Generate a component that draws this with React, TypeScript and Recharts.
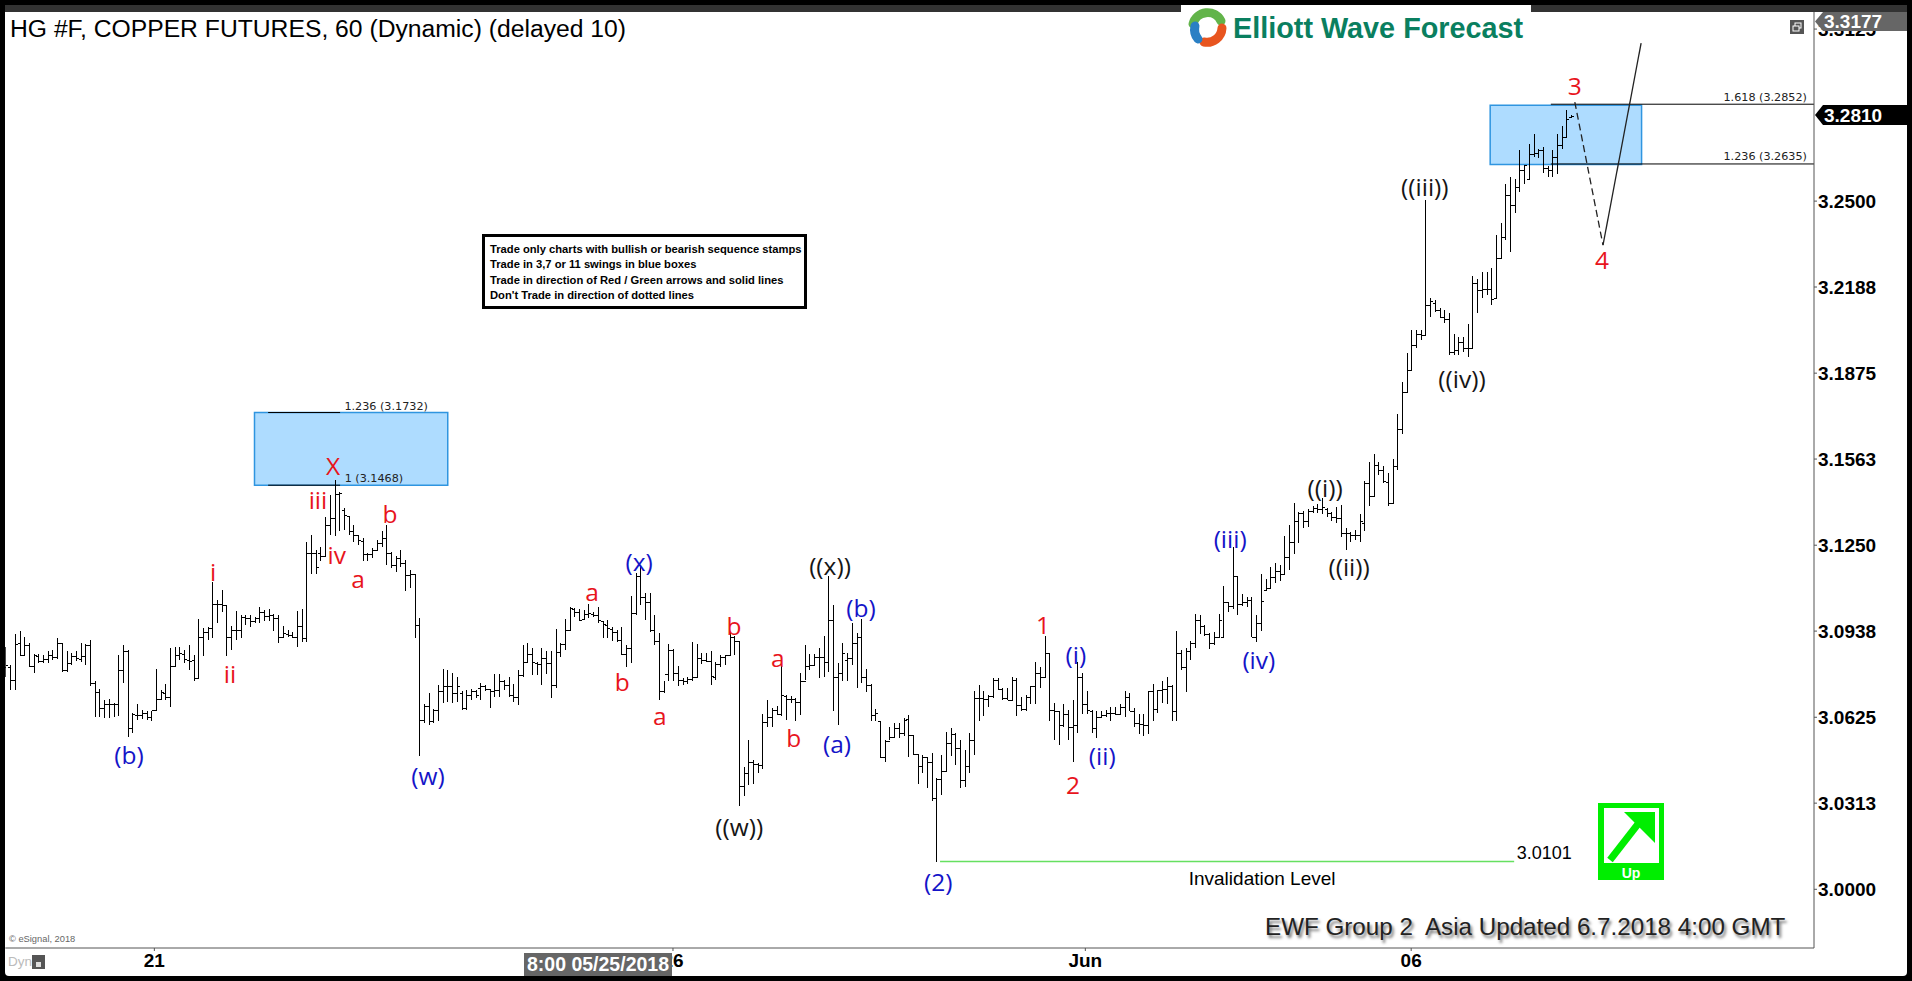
import React from "react";
import {
  ComposedChart,
  Bar,
  XAxis,
  YAxis,
  ReferenceArea,
  ReferenceLine,
  ReferenceDot,
} from "recharts";

// hourly OHLC bars, one column per array
const highs = [
  3.0882,3.0815,3.0928,3.0939,3.0918,3.0894,3.0855,3.0855,3.0852,3.0864,
  3.0868,3.0912,3.0894,3.0864,3.0858,3.0866,3.0894,3.0892,3.0906,3.0755,
  3.0727,3.0688,3.0691,3.0676,3.0852,3.0888,3.0868,3.0640,3.0674,3.0650,
  3.0646,3.0646,3.0800,3.0725,3.0746,3.0876,3.0882,3.0882,3.0868,3.0888,
  3.0852,3.0982,3.0949,3.0952,3.1116,3.1051,3.1088,3.1033,3.0955,3.1011,
  3.0997,3.0997,3.0997,3.0988,3.1025,3.1015,3.1018,3.0999,3.0997,3.0955,
  3.0943,3.0936,3.1011,3.1019,3.1263,3.1286,3.1233,3.1245,3.1351,3.1433,
  3.1487,3.1445,3.1384,3.1356,3.1324,3.1287,3.1275,3.1221,3.1239,3.1269,
  3.1303,3.1324,3.1227,3.1209,3.1233,3.1197,3.1160,3.1146,3.0985,3.0674,
  3.0713,3.0654,3.0743,3.0800,3.0795,3.0785,3.0771,3.0719,3.0725,3.0727,
  3.0725,3.0749,3.0743,3.0727,3.0783,3.0783,3.0761,3.0771,3.0746,3.0795,
  3.0888,3.0894,3.0876,3.0827,3.0876,3.0864,3.0864,3.0945,3.0894,3.0981,
  3.1025,3.1021,3.1017,3.1015,3.1037,3.1009,3.1027,3.0976,3.0979,3.0954,
  3.0942,3.0952,3.0888,3.1066,3.1148,3.1175,3.1078,3.1075,3.0997,3.0930,
  3.0755,3.0891,3.0872,3.0812,3.0767,3.0773,3.0898,3.0891,3.0858,3.0860,
  3.0864,3.0827,3.0852,3.0852,3.0930,3.0920,3.0903,3.0446,3.0543,3.0468,
  3.0458,3.0637,3.0688,3.0658,3.0667,3.0812,3.0706,3.0703,3.0694,3.0787,
  3.0888,3.0855,3.0855,3.0876,3.0920,3.1138,3.1033,3.0821,3.0894,3.0858,
  3.0969,3.0930,3.0981,3.0799,3.0746,3.0654,3.0613,3.0543,3.0591,3.0603,
  3.0603,3.0622,3.0634,3.0561,3.0492,3.0489,3.0482,3.0495,3.0404,3.0489,
  3.0570,3.0585,3.0567,3.0543,3.0507,3.0567,3.0719,3.0743,3.0722,3.0706,
  3.0767,3.0767,3.0731,3.0731,3.0773,3.0767,3.0700,3.0706,3.0739,3.0827,
  3.0809,3.0920,3.0855,3.0676,3.0646,3.0674,3.0652,3.0688,3.0824,3.0785,
  3.0722,3.0652,3.0649,3.0646,3.0652,3.0664,3.0664,3.0674,3.0722,3.0712,
  3.0658,3.0637,3.0637,3.0719,3.0746,3.0724,3.0755,3.0773,3.0743,3.0940,
  3.0870,3.0876,3.0902,3.1000,3.0997,3.0960,3.0930,3.0936,3.1000,3.1102,
  3.1045,3.1242,3.1138,3.1073,3.1061,3.1061,3.0997,3.1145,3.1126,3.1170,
  3.1184,3.1178,3.1283,3.1323,3.1404,3.1372,3.1375,3.1380,3.1392,3.1400,
  3.1420,3.1384,3.1372,3.1388,3.1396,3.1311,3.1299,3.1305,3.1363,3.1485,
  3.1551,3.1582,3.1554,3.1539,3.1514,3.1563,3.1727,3.1842,3.1948,3.2030,
  3.2030,3.2030,3.2504,3.2147,3.2141,3.2110,3.2104,3.2092,3.2017,3.2005,
  3.2005,3.2054,3.2228,3.2216,3.2244,3.2244,3.2256,3.2377,3.2419,3.2562,
  3.2586,3.2582,3.2685,3.2631,3.2707,3.2743,3.2691,3.2697,3.2627,3.2685,
  3.2743,3.2772,3.2830,3.2812,
];
const lows = [
  3.0773,3.0725,3.0725,3.0846,3.0846,3.0807,3.0785,3.0822,3.0822,3.0822,
  3.0834,3.0836,3.0791,3.0791,3.0815,3.0831,3.0824,3.0815,3.0737,3.0625,
  3.0625,3.0622,3.0622,3.0625,3.0628,3.0751,3.0555,3.0567,3.0616,3.0618,
  3.0616,3.0613,3.0652,3.0688,3.0688,3.0664,3.0807,3.0834,3.0822,3.0797,
  3.0755,3.0767,3.0846,3.0904,3.0912,3.0969,3.1009,3.0848,3.0868,3.0904,
  3.0912,3.0961,3.0952,3.0967,3.0967,3.0973,3.0976,3.0940,3.0894,3.0912,
  3.0915,3.0912,3.0880,3.0900,3.0900,3.1146,3.1146,3.1194,3.1209,3.1287,
  3.1284,3.1303,3.1306,3.1287,3.1263,3.1251,3.1191,3.1193,3.1203,3.1233,
  3.1245,3.1178,3.1166,3.1151,3.1172,3.1085,3.1094,3.0912,3.0485,3.0604,
  3.0598,3.0604,3.0610,3.0676,3.0682,3.0676,3.0682,3.0652,3.0652,3.0688,
  3.0694,3.0688,3.0719,3.0660,3.0700,3.0700,3.0724,3.0698,3.0679,3.0670,
  3.0773,3.0821,3.0779,3.0779,3.0743,3.0783,3.0694,3.0731,3.0845,3.0870,
  3.0942,3.0991,3.0976,3.0979,3.0985,3.0991,3.0969,3.0912,3.0912,3.0903,
  3.0900,3.0851,3.0809,3.0821,3.0997,3.1033,3.0979,3.0936,3.0888,3.0688,
  3.0712,3.0755,3.0755,3.0740,3.0743,3.0746,3.0755,3.0773,3.0819,3.0824,
  3.0743,3.0761,3.0809,3.0815,3.0852,3.0852,3.0301,3.0340,3.0380,3.0383,
  3.0422,3.0436,3.0589,3.0589,3.0634,3.0630,3.0616,3.0676,3.0613,3.0634,
  3.0761,3.0795,3.0815,3.0767,3.0773,3.0791,3.0646,3.0598,3.0755,3.0755,
  3.0815,3.0731,3.0749,3.0715,3.0610,3.0610,3.0476,3.0461,3.0543,3.0549,
  3.0549,3.0557,3.0482,3.0489,3.0383,3.0424,3.0367,3.0319,3.0101,3.0343,
  3.0428,3.0485,3.0452,3.0367,3.0371,3.0424,3.0489,3.0610,3.0630,3.0662,
  3.0694,3.0724,3.0688,3.0686,3.0688,3.0630,3.0649,3.0646,3.0674,3.0674,
  3.0731,3.0773,3.0610,3.0541,3.0525,3.0589,3.0543,3.0461,3.0567,3.0636,
  3.0637,3.0567,3.0549,3.0622,3.0625,3.0613,3.0634,3.0634,3.0625,3.0646,
  3.0589,3.0565,3.0557,3.0565,3.0610,3.0640,3.0676,3.0674,3.0613,3.0610,
  3.0797,3.0715,3.0833,3.0876,3.0928,3.0920,3.0872,3.0888,3.0918,3.0916,
  3.1009,3.1017,3.0997,3.1029,3.1025,3.0916,3.0900,3.0940,3.1087,3.1093,
  3.1112,3.1121,3.1142,3.1160,3.1218,3.1259,3.1311,3.1315,3.1366,3.1366,
  3.1363,3.1351,3.1339,3.1329,3.1281,3.1233,3.1263,3.1269,3.1263,3.1300,
  3.1391,3.1430,3.1506,3.1476,3.1391,3.1403,3.1524,3.1655,3.1806,3.1885,
  3.1966,3.1996,3.2014,3.2080,3.2098,3.2074,3.2056,3.1941,3.1941,3.1941,
  3.1953,3.1933,3.1965,3.2095,3.2147,3.2159,3.2123,3.2147,3.2292,3.2359,
  3.2316,3.2458,3.2534,3.2562,3.2582,3.2661,3.2655,3.2603,3.2586,3.2588,
  3.2600,3.2688,3.2731,3.2806,
];
const opens = [
  3.0809,3.0809,3.0761,3.0894,3.0852,3.0888,3.0812,3.0848,3.0828,3.0836,
  3.0852,3.0843,3.0894,3.0797,3.0822,3.0846,3.0836,3.0848,3.0888,3.0749,
  3.0715,3.0658,3.0674,3.0674,3.0674,3.0795,3.0864,3.0586,3.0634,3.0634,
  3.0640,3.0625,3.0652,3.0691,3.0713,3.0698,3.0812,3.0852,3.0855,3.0834,
  3.0834,3.0767,3.0916,3.0933,3.0949,3.1037,3.1037,3.1033,3.0918,3.0943,
  3.0943,3.0988,3.0985,3.0973,3.0984,3.1009,3.0993,3.0996,3.0985,3.0916,
  3.0928,3.0924,3.0918,3.0957,3.0912,3.1223,3.1223,3.1221,3.1209,3.1324,
  3.1348,3.1436,3.1378,3.1356,3.1303,3.1287,3.1267,3.1218,3.1218,3.1233,
  3.1257,3.1275,3.1221,3.1178,3.1203,3.1185,3.1142,3.1146,3.0961,3.0616,
  3.0667,3.0613,3.0652,3.0719,3.0737,3.0737,3.0713,3.0713,3.0658,3.0707,
  3.0719,3.0731,3.0739,3.0727,3.0722,3.0724,3.0755,3.0743,3.0706,3.0700,
  3.0779,3.0827,3.0855,3.0821,3.0819,3.0839,3.0821,3.0743,3.0861,3.0891,
  3.0942,3.1017,3.1009,3.0981,3.0999,3.1000,3.0998,3.0973,3.0960,3.0944,
  3.0933,3.0906,3.0855,3.0876,3.1003,3.1139,3.1063,3.1045,3.0942,3.0902,
  3.0719,3.0783,3.0870,3.0787,3.0761,3.0755,3.0763,3.0771,3.0839,3.0833,
  3.0831,3.0773,3.0819,3.0843,3.0852,3.0918,3.0903,3.0376,3.0424,3.0461,
  3.0456,3.0452,3.0606,3.0625,3.0652,3.0636,3.0703,3.0690,3.0690,3.0682,
  3.0755,3.0812,3.0815,3.0845,3.0845,3.0824,3.0979,3.0773,3.0785,3.0833,
  3.0839,3.0894,3.0918,3.0773,3.0743,3.0634,3.0613,3.0480,3.0537,3.0553,
  3.0585,3.0567,3.0618,3.0561,3.0492,3.0449,3.0482,3.0461,3.0331,3.0400,
  3.0428,3.0531,3.0565,3.0513,3.0398,3.0449,3.0543,3.0694,3.0694,3.0690,
  3.0703,3.0761,3.0727,3.0694,3.0688,3.0761,3.0670,3.0654,3.0700,3.0737,
  3.0787,3.0773,3.0860,3.0652,3.0649,3.0598,3.0637,3.0591,3.0598,3.0773,
  3.0674,3.0649,3.0585,3.0625,3.0634,3.0640,3.0640,3.0636,3.0664,3.0700,
  3.0649,3.0603,3.0601,3.0598,3.0719,3.0654,3.0724,3.0727,3.0739,3.0646,
  3.0860,3.0807,3.0864,3.0894,3.0979,3.0958,3.0928,3.0894,3.0916,3.0918,
  3.1045,3.1029,3.1138,3.1037,3.1045,3.1051,3.0916,3.0966,3.1087,3.1093,
  3.1136,3.1158,3.1145,3.1206,3.1263,3.1339,3.1368,3.1339,3.1375,3.1384,
  3.1380,3.1380,3.1366,3.1351,3.1348,3.1296,3.1293,3.1287,3.1287,3.1331,
  3.1476,3.1430,3.1542,3.1524,3.1478,3.1403,3.1539,3.1672,3.1806,3.1885,
  3.1978,3.2018,3.2014,3.2123,3.2129,3.2104,3.2080,3.2071,3.1953,3.1959,
  3.1989,3.1965,3.1965,3.2201,3.2177,3.2179,3.2179,3.2147,3.2294,3.2371,
  3.2522,3.2486,3.2550,3.2613,3.2582,3.2671,3.2676,3.2685,3.2622,3.2613,
  3.2661,3.2703,3.2734,3.2806,
];
const closes = [
  3.0815,3.0761,3.0892,3.0852,3.0888,3.0812,3.0852,3.0828,3.0836,3.0852,
  3.0843,3.0894,3.0795,3.0822,3.0846,3.0840,3.0846,3.0888,3.0751,3.0715,
  3.0658,3.0674,3.0674,3.0674,3.0795,3.0864,3.0586,3.0638,3.0634,3.0640,
  3.0625,3.0652,3.0691,3.0715,3.0698,3.0812,3.0852,3.0858,3.0836,3.0831,
  3.0767,3.0916,3.0933,3.0949,3.1037,3.1037,3.1033,3.0918,3.0943,3.0943,
  3.0988,3.0985,3.0973,3.0984,3.1009,3.0993,3.0996,3.0985,3.0916,3.0930,
  3.0924,3.0918,3.0957,3.0912,3.1223,3.1223,3.1170,3.1209,3.1324,3.1348,
  3.1436,3.1439,3.1360,3.1303,3.1287,3.1269,3.1218,3.1217,3.1233,3.1257,
  3.1275,3.1221,3.1178,3.1203,3.1185,3.1142,3.1146,3.0961,3.0616,3.0667,
  3.0613,3.0652,3.0719,3.0737,3.0737,3.0713,3.0737,3.0658,3.0707,3.0719,
  3.0707,3.0739,3.0727,3.0722,3.0724,3.0755,3.0743,3.0706,3.0700,3.0779,
  3.0827,3.0855,3.0824,3.0819,3.0839,3.0821,3.0743,3.0861,3.0891,3.0942,
  3.1021,3.1009,3.0979,3.0999,3.1003,3.0998,3.0979,3.0964,3.0948,3.0936,
  3.0906,3.0855,3.0876,3.1003,3.1139,3.1063,3.1045,3.0942,3.0902,3.0719,
  3.0783,3.0870,3.0787,3.0761,3.0755,3.0763,3.0771,3.0839,3.0833,3.0831,
  3.0775,3.0819,3.0843,3.0852,3.0918,3.0903,3.0376,3.0424,3.0461,3.0456,
  3.0452,3.0606,3.0625,3.0652,3.0636,3.0706,3.0690,3.0692,3.0682,3.0755,
  3.0812,3.0815,3.0845,3.0845,3.0824,3.0979,3.0773,3.0785,3.0858,3.0839,
  3.0894,3.0918,3.0773,3.0743,3.0634,3.0640,3.0480,3.0537,3.0553,3.0585,
  3.0567,3.0616,3.0561,3.0492,3.0449,3.0482,3.0461,3.0331,3.0400,3.0428,
  3.0531,3.0565,3.0513,3.0398,3.0449,3.0543,3.0694,3.0694,3.0690,3.0703,
  3.0761,3.0727,3.0694,3.0688,3.0761,3.0670,3.0654,3.0700,3.0737,3.0787,
  3.0773,3.0860,3.0652,3.0649,3.0598,3.0637,3.0591,3.0598,3.0773,3.0674,
  3.0652,3.0585,3.0625,3.0634,3.0640,3.0640,3.0636,3.0664,3.0700,3.0649,
  3.0603,3.0601,3.0598,3.0719,3.0654,3.0724,3.0727,3.0739,3.0646,3.0860,
  3.0807,3.0864,3.0894,3.0979,3.0958,3.0928,3.0894,3.0916,3.0979,3.1045,
  3.1029,3.1138,3.1037,3.1045,3.1051,3.0916,3.0966,3.1049,3.1093,3.1136,
  3.1158,3.1145,3.1206,3.1263,3.1339,3.1368,3.1339,3.1375,3.1384,3.1380,
  3.1390,3.1368,3.1351,3.1348,3.1296,3.1293,3.1287,3.1287,3.1339,3.1476,
  3.1430,3.1542,3.1524,3.1482,3.1403,3.1539,3.1672,3.1806,3.1885,3.1978,
  3.2018,3.2014,3.2123,3.2138,3.2104,3.2080,3.2071,3.1953,3.1959,3.1989,
  3.1965,3.1965,3.2201,3.2177,3.2179,3.2179,3.2144,3.2294,3.2371,3.2522,
  3.2486,3.2550,3.2613,3.2631,3.2671,3.2676,3.2685,3.2622,3.2613,3.2661,
  3.2703,3.2734,3.2800,3.2810,
];

const priceTicks = [3.0, 3.0313, 3.0625, 3.0938, 3.125, 3.1563, 3.1875, 3.2188, 3.25, 3.3125];
const dateTicks = [31.7, 142, 229.7, 299];
const dateLabels = ["21", "26", "Jun", "06"];

// [index from, index to, price low, price high]
const blueBoxes = [
  [53.0, 94.1, 3.1468, 3.1732],
  [315.8, 348.0, 3.2633, 3.2848],
];
// fib levels: [index from, index to, price]
const fibLevels = [
  [55.9, 71.2, 3.1732],
  [55.9, 71.2, 3.1468],
  [328.7, 384.67, 3.2852],
  [328.7, 384.67, 3.2635],
];
const fibLabels: [string, number, number][] = [
  ["1.236 (3.1732)", 81, 3.1756],
  ["1 (3.1468)", 78.4, 3.1493],
  ["1.618 (3.2852)", 374.3, 3.2878],
  ["1.236 (3.2635)", 374.3, 3.2665],
];
const invalidation = { from: 198.8, to: 320.9, price: 3.0101 };
const projection = [
  { x: 333.8, y: 3.286 },
  { x: 339.8, y: 3.234 },
  { x: 347.9, y: 3.3074 },
];

const RED = "#e8141c";
const BLUE = "#1414c8";
const BLK = "#151515";
const waveLabels: [string, string, number, number][] = [
  ["X", RED, 69.7, 3.1538],
  ["iii", RED, 66.5, 3.1414],
  ["iv", RED, 70.5, 3.1214],
  ["a", RED, 75, 3.1127],
  ["b", RED, 81.8, 3.1363],
  ["i", RED, 44.2, 3.1153],
  ["ii", RED, 47.8, 3.0782],
  ["(b)", BLUE, 26.3, 3.0488],
  ["(w)", BLUE, 89.9, 3.0412],
  ["(x)", BLUE, 134.8, 3.1189],
  ["a", RED, 124.8, 3.108],
  ["b", RED, 131.2, 3.0753],
  ["a", RED, 139.2, 3.063],
  ["b", RED, 155, 3.0956],
  ["a", RED, 164.3, 3.084],
  ["b", RED, 167.7, 3.055],
  ["((w))", BLK, 156.1, 3.0226],
  ["((x))", BLK, 175.4, 3.1174],
  ["(b)", BLUE, 182, 3.1022],
  ["(a)", BLUE, 176.9, 3.0528],
  ["(2)", BLUE, 198.4, 3.0027],
  ["1", RED, 220.7, 3.096],
  ["(i)", BLUE, 227.7, 3.0851],
  ["2", RED, 227.1, 3.0379],
  ["(ii)", BLUE, 233.3, 3.0484],
  ["(iii)", BLUE, 260.5, 3.1272],
  ["(iv)", BLUE, 266.6, 3.0833],
  ["((i))", BLK, 280.7, 3.1458],
  ["((ii))", BLK, 285.8, 3.1171],
  ["((iii))", BLK, 301.9, 3.2551],
  ["((iv))", BLK, 309.8, 3.1854],
  ["3", RED, 333.8, 3.2918],
  ["4", RED, 339.6, 3.2286],
];

const noteLines = [
  "Trade only charts with bullish or bearish sequence stamps",
  "Trade in 3,7 or 11 swings in blue boxes",
  "Trade in direction of Red / Green arrows and solid lines",
  "Don't Trade in direction of dotted lines",
];

const bars = highs.map((h, i) => ({
  i,
  range: [lows[i], h],
  high: h,
  low: lows[i],
  open: opens[i],
  close: closes[i],
}));

// one OHLC bar: stem, open tick left, close tick right
function OhlcBar(props: any) {
  const { x, y, width, height, payload } = props;
  const top = Math.min(y, y + height);
  const h = Math.abs(height);
  const span = payload.high - payload.low || 1;
  const cx = Math.round(x + width / 2) + 0.5;
  const yOf = (p: number) => Math.round(top + ((payload.high - p) / span) * h) + 0.5;
  return (
    <g stroke="#000" strokeWidth={1} shapeRendering="crispEdges">
      <line x1={cx} x2={cx} y1={top} y2={top + Math.max(h, 1)} />
      <line x1={cx - 2.5} x2={cx} y1={yOf(payload.open)} y2={yOf(payload.open)} />
      <line x1={cx} x2={cx + 2.5} y1={yOf(payload.close)} y2={yOf(payload.close)} />
    </g>
  );
}

const abs = (left: number, top: number, style: React.CSSProperties = {}): React.CSSProperties => ({
  position: "absolute",
  left,
  top,
  whiteSpace: "pre",
  ...style,
});

function Overlay() {
  return (
    <svg width={1912} height={981} style={{ position: "absolute", left: 0, top: 0 }}>
      {/* window title band */}
      <rect x={0} y={0} width={1912} height={5} fill="#000" />
      <rect x={5} y={5} width={1902} height={7} fill="#333" />
      <rect x={1181} y={5} width={350} height={30} fill="#fff" />
      {/* logo swirl */}
      <g fill="none" strokeWidth={9} strokeLinecap="round">
        <path d="M1193 24 A15 15 0 0 1 1221 21" stroke="#62b44a" />
        <path d="M1222 28 A15 15 0 0 1 1204 42" stroke="#e8551f" />
        <path d="M1198 39 A15 15 0 0 1 1195 26" stroke="#2a7fc4" />
      </g>
      <text x={1233} y={38} fontFamily="'Liberation Sans'" fontWeight={700} fontSize={28.8} fill="#0a7f5f">
        Elliott Wave Forecast
      </text>
      {/* restore icon */}
      <rect x={1790} y={20} width={14} height={14} fill="#555" />
      <rect x={1795} y={23} width={6} height={5} fill="none" stroke="#fff" />
      <rect x={1793} y={26} width={6} height={5} fill="#555" stroke="#fff" />
      {/* price flags */}
      <path d="M1815 21.5 L1823 12 L1907 12 L1907 31 L1823 31 Z" fill="#666" />
      <text x={1824} y={28} fontFamily="'Liberation Sans'" fontWeight={700} fontSize={19} fill="#fff">
        3.3177
      </text>
      <path d="M1815 115 L1823 105 L1907 105 L1907 125 L1823 125 Z" fill="#000" />
      <text x={1824} y={122} fontFamily="'Liberation Sans'" fontWeight={700} fontSize={19} fill="#fff">
        3.2810
      </text>
      {/* up stamp */}
      <rect x={1598} y={803} width={66} height={77} fill="#00ee00" />
      <rect x={1604} y={808} width={55} height={55} fill="#fff" />
      <path d="M1610 860 L1645 815" stroke="#00ee00" strokeWidth={7} />
      <path d="M1624 812 L1655 812 L1655 843 Z" fill="#00ee00" />
      <text x={1631} y={878} textAnchor="middle" fontFamily="'Liberation Sans'" fontWeight={700} fontSize={14} fill="#fff">
        Up
      </text>
      {/* crosshair date flag */}
      <rect x={524} y={953} width={148} height={23} fill="#666" />
      <text x={598} y={971} textAnchor="middle" fontFamily="'Liberation Sans'" fontWeight={700} fontSize={19.5} fill="#fff">
        8:00 05/25/2018
      </text>
      {/* lock icon */}
      <rect x={32} y={955} width={13} height={14} fill="#555" />
      <rect x={36} y={962} width={5} height={5} fill="#ddd" />
    </svg>
  );
}

export default function App() {
  return (
    <div style={{ position: "absolute", left: 0, top: 0, width: 1912, height: 981, background: "#000", overflow: "hidden" }}>
      <div style={{ position: "absolute", left: 5, top: 5, width: 1902, height: 971, background: "#fff", borderRadius: 4 }} />
      <ComposedChart
        width={1912}
        height={981}
        data={bars}
        margin={{ top: 12, right: 0, bottom: 0, left: 5.3 }}
        style={{ position: "absolute", left: 0, top: 0 }}
      >
        <XAxis
          dataKey="i"
          type="number"
          domain={[0, 384.67]}
          allowDataOverflow
          ticks={dateTicks}
          interval={0}
          height={33}
          tickFormatter={(v: number) => dateLabels[dateTicks.indexOf(v)]}
          stroke="#555"
          tickSize={3}
          tickMargin={3}
          tick={{ fill: "#000", fontSize: 19, fontWeight: 700, fontFamily: "'Liberation Sans'" }}
        />
        <YAxis
          orientation="right"
          type="number"
          domain={[2.97868, 3.3187]}
          allowDataOverflow
          ticks={priceTicks}
          interval={0}
          width={98}
          tickFormatter={(v: number) => v.toFixed(4)}
          stroke="#555"
          tickSize={3}
          tickMargin={1}
          tick={{ fill: "#000", fontSize: 19, fontWeight: 700, fontFamily: "'Liberation Sans'" }}
        />
        {blueBoxes.map((b, k) => (
          <ReferenceArea
            key={k}
            x1={b[0]}
            x2={b[1]}
            y1={b[2]}
            y2={b[3]}
            fill="#aedcff"
            fillOpacity={1}
            stroke="#2f95e0"
            strokeWidth={1.5}
            ifOverflow="visible"
          />
        ))}
        {fibLevels.map((l, k) => (
          <ReferenceLine
            key={k}
            segment={[
              { x: l[0], y: l[2] },
              { x: l[1], y: l[2] },
            ]}
            stroke="#000"
            strokeWidth={1}
            ifOverflow="visible"
          />
        ))}
        <ReferenceLine
          segment={[
            { x: invalidation.from, y: invalidation.price },
            { x: invalidation.to, y: invalidation.price },
          ]}
          stroke="#66e060"
          strokeWidth={1.5}
        />
        <Bar dataKey="range" barSize={3} isAnimationActive={false} shape={<OhlcBar />} />
        <ReferenceLine
          segment={[projection[0], projection[1]]}
          stroke="#222"
          strokeWidth={1.3}
          strokeDasharray="7 4"
          ifOverflow="visible"
        />
        <ReferenceLine
          segment={[projection[1], projection[2]]}
          stroke="#222"
          strokeWidth={1.3}
          ifOverflow="visible"
        />
        {fibLabels.map(([text, x, y], k) => (
          <ReferenceDot
            key={k}
            x={x}
            y={y}
            r={1}
            fill="none"
            stroke="none"
            ifOverflow="visible"
            label={{ value: text, position: "center", fill: "#222", fontSize: 11.2, fontFamily: "'DejaVu Sans'" }}
          />
        ))}
        <ReferenceDot
          x={327.3}
          y={3.0135}
          r={1}
          fill="none"
          stroke="none"
          label={{ value: "3.0101", position: "center", fill: "#000", fontSize: 18, fontFamily: "'Liberation Sans'" }}
        />
        <ReferenceDot
          x={267.3}
          y={3.0041}
          r={1}
          fill="none"
          stroke="none"
          label={{ value: "Invalidation Level", position: "center", fill: "#000", fontSize: 19, fontFamily: "'Liberation Sans'" }}
        />
        {waveLabels.map(([text, color, x, y], k) => (
          <ReferenceDot
            key={k}
            x={x}
            y={y}
            r={1}
            fill="none"
            stroke="none"
            ifOverflow="visible"
            label={{ value: text, position: "center", fill: color, fontSize: 24.5, fontFamily: "'Open Sans'" }}
          />
        ))}
      </ComposedChart>
      <Overlay />
      <div style={abs(10, 16, { fontFamily: "'Liberation Sans'", fontSize: 24.7, color: "#000", lineHeight: "26px" })}>
        HG #F, COPPER FUTURES, 60 (Dynamic) (delayed 10)
      </div>
      <div
        style={abs(482, 234, {
          width: 314,
          height: 64,
          border: "3px solid #000",
          background: "#fff",
          padding: "5px 0 0 5px",
          boxSizing: "content-box",
          fontFamily: "'Liberation Sans'",
          fontWeight: 700,
          fontSize: 11.2,
          lineHeight: "15.4px",
          color: "#000",
        })}
      >
        {noteLines.map((t) => (
          <div key={t}>{t}</div>
        ))}
      </div>
      <div
        style={abs(1265, 912, {
          fontFamily: "'Liberation Sans'",
          fontSize: 24.2,
          lineHeight: "30px",
          color: "#222",
          textShadow: "2px 3px 3px #777",
        })}
      >
        {"EWF Group 2  Asia Updated 6.7.2018 4:00 GMT"}
      </div>
      <div style={abs(9, 934, { fontFamily: "'Liberation Sans'", fontSize: 9.3, color: "#666" })}>© eSignal, 2018</div>
      <div style={abs(8, 954, { fontFamily: "'Liberation Sans'", fontSize: 13.5, color: "#bbb" })}>Dyn</div>
    </div>
  );
}
